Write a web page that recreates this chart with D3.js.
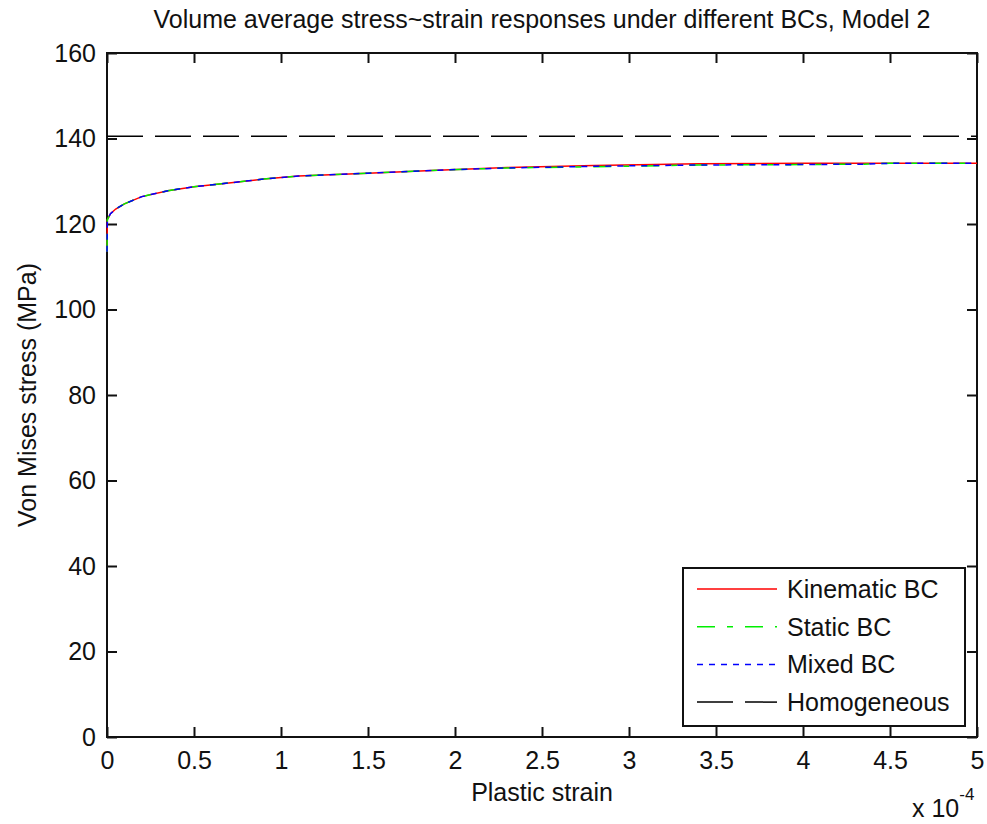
<!DOCTYPE html>
<html>
<head>
<meta charset="utf-8">
<script src="https://cdn.jsdelivr.net/npm/d3@7.9.0/dist/d3.min.js"></script>
<style>
  body { margin: 0; background: #fff; }
  svg text { font-family: "Liberation Sans", Arial, sans-serif; fill: #111; }
</style>
</head>
<body>
<svg id="chart" width="987" height="824"></svg>
<script>
// data (strain in units of 1e-4)
const strain = [0, 0.002, 0.02, 0.05, 0.1, 0.2, 0.35, 0.5, 0.7, 0.9, 1.1, 1.5, 1.9, 2.3, 2.8, 3.4, 4.0, 4.35, 4.5, 5.0];
const kinematic = [113.5, 121.0, 122.4, 123.5, 124.7, 126.4, 127.8, 128.7, 129.6, 130.5, 131.2, 131.9, 132.6, 133.2, 133.7, 134.1, 134.2, 134.2, 134.2, 134.2];
const staticBC = [113.5, 121.0, 122.4, 123.5, 124.7, 126.4, 127.8, 128.7, 129.6, 130.5, 131.2, 131.9, 132.6, 133.1, 133.4, 133.8, 133.9, 134.0, 134.2, 134.2];
const mixed = [113.5, 121.0, 122.4, 123.5, 124.7, 126.4, 127.8, 128.7, 129.6, 130.5, 131.2, 131.9, 132.6, 133.1, 133.5, 133.8, 133.9, 134.0, 134.2, 134.2];
const homogeneous = 140.5;

const xTicks = [0, 0.5, 1, 1.5, 2, 2.5, 3, 3.5, 4, 4.5, 5];
const yTicks = [0, 20, 40, 60, 80, 100, 120, 140, 160];

const series = [
  { name: 'Kinematic BC', values: kinematic, color: '#ff0000', dash: null },
  { name: 'Static BC', values: staticBC, color: '#00ee00', dash: '18,12,6,12' },
  { name: 'Mixed BC', values: mixed, color: '#0000ff', dash: '6,6' },
  { name: 'Homogeneous', values: strain.map(() => homogeneous), color: '#000000', dash: '36,12' }
];

const margin = { left: 107, right: 977, top: 53, bottom: 737 };
const svg = d3.select('#chart');
const fs = 25;

const x = d3.scaleLinear().domain([0, 5]).range([margin.left, margin.right]);
const y = d3.scaleLinear().domain([0, 160]).range([margin.bottom, margin.top]);

// axes (ticks inward, mirrored)
const tl = 10;
svg.append('g').attr('transform', `translate(0,${margin.bottom})`)
  .call(d3.axisBottom(x).tickValues(xTicks).tickSize(-tl).tickPadding(14).tickFormat(d3.format('')));
svg.append('g').attr('transform', `translate(0,${margin.top})`)
  .call(d3.axisTop(x).tickValues(xTicks).tickSize(-tl).tickFormat(''));
svg.append('g').attr('transform', `translate(${margin.left},0)`)
  .call(d3.axisLeft(y).tickValues(yTicks).tickSize(-tl).tickPadding(11));
svg.append('g').attr('transform', `translate(${margin.right},0)`)
  .call(d3.axisRight(y).tickValues(yTicks).tickSize(-tl).tickFormat(''));

svg.selectAll('.domain').remove();
svg.selectAll('.tick line').attr('stroke', '#111').attr('stroke-width', 2);
svg.selectAll('.tick text').attr('font-size', fs).attr('font-family', '"Liberation Sans", Arial, sans-serif').attr('fill', '#111');
svg.append('rect')
  .attr('x', margin.left).attr('y', margin.top)
  .attr('width', margin.right - margin.left).attr('height', margin.bottom - margin.top)
  .attr('fill', 'none').attr('stroke', '#111').attr('stroke-width', 2);

// lines (drawn over the box, as in the reference)
const line = d3.line()
  .x((d, i) => x(strain[i]))
  .y(d => y(d));

series.forEach(s => {
  svg.append('path')
    .attr('d', line(s.values))
    .attr('fill', 'none')
    .attr('stroke', s.color)
    .attr('stroke-width', 1.5)
    .attr('stroke-dasharray', s.dash);
});

// legend
const lg = svg.append('g');
lg.append('rect')
  .attr('x', 683).attr('y', 568).attr('width', 282).attr('height', 158)
  .attr('fill', '#fff').attr('stroke', '#111').attr('stroke-width', 2);
series.forEach((s, i) => {
  const ly = 589 + i * 37.7;
  lg.append('line')
    .attr('x1', 697).attr('x2', 777).attr('y1', ly).attr('y2', ly)
    .attr('stroke', s.color).attr('stroke-width', 1.5)
    .attr('stroke-dasharray', s.dash);
  lg.append('text')
    .attr('x', 787).attr('y', ly).attr('dy', '0.36em')
    .attr('font-size', fs).text(s.name);
});

// labels
svg.append('text')
  .attr('x', (margin.left + margin.right) / 2).attr('y', 28)
  .attr('text-anchor', 'middle').attr('font-size', fs)
  .text('Volume average stress~strain responses under different BCs, Model 2');
svg.append('text')
  .attr('x', (margin.left + margin.right) / 2).attr('y', 801)
  .attr('text-anchor', 'middle').attr('font-size', fs)
  .text('Plastic strain');
svg.append('text')
  .attr('transform', `translate(36,${(margin.top + margin.bottom) / 2}) rotate(-90)`)
  .attr('text-anchor', 'middle').attr('font-size', fs)
  .text('Von Mises stress (MPa)');
const ex = svg.append('text')
  .attr('x', 912).attr('y', 817).attr('font-size', fs);
ex.append('tspan').text('x 10');
ex.append('tspan').attr('dy', -17).attr('font-size', 17).text('-4');
</script>
</body>
</html>
